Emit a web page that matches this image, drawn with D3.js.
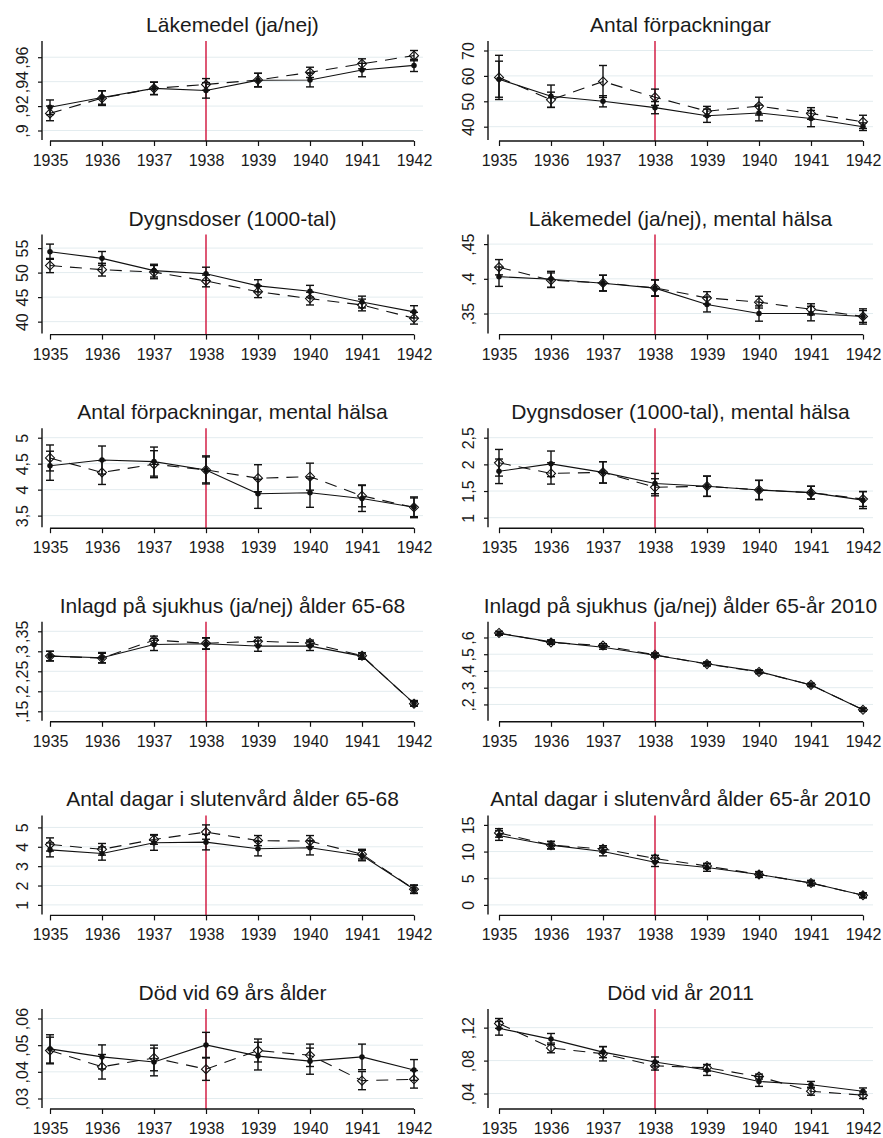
<!DOCTYPE html>
<html>
<head>
<meta charset="utf-8">
<script src="https://cdn.jsdelivr.net/npm/d3@7"></script>
<style>
  body { margin: 0; background: #fff; }
  text { font-family: "Liberation Sans", Arial, sans-serif; fill: #1a1a1a; }
  .title { font-size: 21px; }
  .tick text { font-size: 16px; }
</style>
</head>
<body>
<div id="graph"></div>
<script>
//----------------------------------------------------------
// data (solid = filled dots, dash = hollow diamonds, CI = half width of 95% bar)
var g_years = [1935, 1936, 1937, 1938, 1939, 1940, 1941, 1942];
var g_reform_year = 1938;

var p1_title = "Läkemedel (ja/nej)";
var p1_ticks = [0.90, 0.92, 0.94, 0.96];
var p1_solid = [0.919, 0.927, 0.9345, 0.9328, 0.9412, 0.9413, 0.9495, 0.9533];
var p1_solidCI = [0.006, 0.0055, 0.0052, 0.0063, 0.0056, 0.0056, 0.0055, 0.005];
var p1_dash = [0.914, 0.9265, 0.9345, 0.9377, 0.9414, 0.9476, 0.9546, 0.9613];
var p1_dashCI = [0.006, 0.006, 0.005, 0.0048, 0.0055, 0.0042, 0.0041, 0.0042];

var p2_title = "Antal förpackningar";
var p2_ticks = [40, 50, 60, 70];
var p2_solid = [58.7, 52.0, 50.0, 47.5, 44.3, 45.4, 43.2, 40.0];
var p2_solidCI = [7.1, 4.4, 2.2, 2.4, 2.6, 3.1, 3.2, 1.5];
var p2_dash = [59.4, 50.6, 57.8, 51.6, 46.1, 48.1, 45.2, 41.9];
var p2_dashCI = [8.7, 3.0, 6.3, 3.2, 1.9, 3.5, 2.3, 2.6];

var p3_title = "Dygnsdoser (1000-tal)";
var p3_ticks = [40, 45, 50, 55];
var p3_solid = [54.26, 52.9, 50.4, 49.75, 47.3, 46.2, 44.0, 42.0];
var p3_solidCI = [1.55, 1.4, 1.3, 1.35, 1.25, 1.2, 1.2, 1.25];
var p3_dash = [51.44, 50.6, 50.1, 48.3, 46.1, 44.7, 43.4, 40.7];
var p3_dashCI = [1.45, 1.3, 1.35, 1.2, 1.2, 1.3, 1.2, 1.2];

var p4_title = "Läkemedel (ja/nej), mental hälsa";
var p4_ticks = [0.35, 0.40, 0.45];
var p4_solid = [0.4031, 0.3993, 0.3937, 0.3866, 0.3631, 0.350, 0.350, 0.3458];
var p4_solidCI = [0.014, 0.0115, 0.0115, 0.0118, 0.0108, 0.011, 0.0105, 0.0085];
var p4_dash = [0.4167, 0.398, 0.394, 0.387, 0.3725, 0.3664, 0.3561, 0.3458];
var p4_dashCI = [0.011, 0.0105, 0.0112, 0.0115, 0.009, 0.0085, 0.008, 0.011];

var p5_title = "Antal förpackningar, mental hälsa";
var p5_ticks = [3.5, 4, 4.5, 5];
var p5_solid = [4.46, 4.57, 4.54, 4.38, 3.92, 3.94, 3.83, 3.66];
var p5_solidCI = [0.28, 0.27, 0.28, 0.27, 0.28, 0.28, 0.25, 0.2];
var p5_dash = [4.61, 4.33, 4.49, 4.38, 4.22, 4.25, 3.88, 3.66];
var p5_dashCI = [0.25, 0.23, 0.26, 0.25, 0.26, 0.26, 0.21, 0.18];

var p6_title = "Dygnsdoser (1000-tal), mental hälsa";
var p6_ticks = [1, 1.5, 2, 2.5];
var p6_solid = [1.87, 2.01, 1.85, 1.64, 1.59, 1.52, 1.47, 1.33];
var p6_solidCI = [0.23, 0.24, 0.2, 0.19, 0.19, 0.18, 0.12, 0.16];
var p6_dash = [2.03, 1.83, 1.85, 1.57, 1.59, 1.52, 1.47, 1.35];
var p6_dashCI = [0.25, 0.2, 0.2, 0.16, 0.19, 0.18, 0.12, 0.14];

var p7_title = "Inlagd på sjukhus (ja/nej) ålder 65-68";
var p7_ticks = [0.15, 0.20, 0.25, 0.30, 0.35];
var p7_solid = [0.288, 0.284, 0.317, 0.319, 0.313, 0.313, 0.288, 0.170];
var p7_solidCI = [0.012, 0.013, 0.015, 0.014, 0.013, 0.011, 0.008, 0.007];
var p7_dash = [0.288, 0.283, 0.328, 0.320, 0.325, 0.321, 0.289, 0.169];
var p7_dashCI = [0.012, 0.012, 0.010, 0.014, 0.010, 0.007, 0.007, 0.006];

var p8_title = "Inlagd på sjukhus (ja/nej) ålder 65-år 2010";
var p8_ticks = [0.2, 0.3, 0.4, 0.5, 0.6];
var p8_solid = [0.624, 0.574, 0.542, 0.494, 0.443, 0.396, 0.316, 0.168];
var p8_solidCI = [0.011, 0.012, 0.012, 0.011, 0.011, 0.010, 0.009, 0.009];
var p8_dash = [0.627, 0.570, 0.552, 0.496, 0.441, 0.394, 0.317, 0.168];
var p8_dashCI = [0.010, 0.011, 0.011, 0.011, 0.011, 0.010, 0.009, 0.009];

var p9_title = "Antal dagar i slutenvård ålder 65-68";
var p9_ticks = [1, 2, 3, 4, 5];
var p9_solid = [3.84, 3.65, 4.21, 4.24, 3.90, 3.95, 3.55, 1.81];
var p9_solidCI = [0.36, 0.34, 0.39, 0.40, 0.37, 0.37, 0.27, 0.22];
var p9_dash = [4.12, 3.87, 4.38, 4.76, 4.32, 4.29, 3.62, 1.81];
var p9_dashCI = [0.34, 0.30, 0.25, 0.37, 0.26, 0.29, 0.25, 0.2];

var p10_title = "Antal dagar i slutenvård ålder 65-år 2010";
var p10_ticks = [0, 5, 10, 15];
var p10_solid = [13.0, 11.2, 10.0, 8.0, 7.0, 5.7, 4.1, 1.8];
var p10_solidCI = [0.9, 0.7, 0.8, 0.8, 0.7, 0.55, 0.5, 0.45];
var p10_dash = [13.5, 11.2, 10.5, 8.7, 7.3, 5.7, 4.1, 1.8];
var p10_dashCI = [0.8, 0.7, 0.6, 0.6, 0.5, 0.5, 0.45, 0.45];

var p11_title = "Död vid 69 års ålder";
var p11_ticks = [0.03, 0.04, 0.05, 0.06];
var p11_solid = [0.0486, 0.0456, 0.0437, 0.0501, 0.0459, 0.0440, 0.0456, 0.0407];
var p11_solidCI = [0.0053, 0.0045, 0.0052, 0.0047, 0.0052, 0.0049, 0.0048, 0.0039];
var p11_dash = [0.0480, 0.0419, 0.0452, 0.0410, 0.0480, 0.0462, 0.0367, 0.0372];
var p11_dashCI = [0.005, 0.0046, 0.0048, 0.0042, 0.0043, 0.0042, 0.0034, 0.0033];

var p12_title = "Död vid år 2011";
var p12_ticks = [0.04, 0.08, 0.12];
var p12_solid = [0.1192, 0.1061, 0.0903, 0.0784, 0.0685, 0.0547, 0.0507, 0.0428];
var p12_solidCI = [0.0083, 0.0068, 0.0067, 0.006, 0.0065, 0.006, 0.004, 0.004];
var p12_dash = [0.1251, 0.0954, 0.0883, 0.0737, 0.0713, 0.0606, 0.0428, 0.0380];
var p12_dashCI = [0.006, 0.0059, 0.0087, 0.0052, 0.004, 0.003, 0.0048, 0.004];

var g_panels = [
    [p1_title, p1_ticks, p1_solid, p1_solidCI, p1_dash, p1_dashCI],
    [p2_title, p2_ticks, p2_solid, p2_solidCI, p2_dash, p2_dashCI],
    [p3_title, p3_ticks, p3_solid, p3_solidCI, p3_dash, p3_dashCI],
    [p4_title, p4_ticks, p4_solid, p4_solidCI, p4_dash, p4_dashCI],
    [p5_title, p5_ticks, p5_solid, p5_solidCI, p5_dash, p5_dashCI],
    [p6_title, p6_ticks, p6_solid, p6_solidCI, p6_dash, p6_dashCI],
    [p7_title, p7_ticks, p7_solid, p7_solidCI, p7_dash, p7_dashCI],
    [p8_title, p8_ticks, p8_solid, p8_solidCI, p8_dash, p8_dashCI],
    [p9_title, p9_ticks, p9_solid, p9_solidCI, p9_dash, p9_dashCI],
    [p10_title, p10_ticks, p10_solid, p10_solidCI, p10_dash, p10_dashCI],
    [p11_title, p11_ticks, p11_solid, p11_solidCI, p11_dash, p11_dashCI],
    [p12_title, p12_ticks, p12_solid, p12_solidCI, p12_dash, p12_dashCI]
].map(function (p) {
    return { title: p[0], ticks: p[1], solid: p[2], solidCI: p[3], dash: p[4], dashCI: p[5] };
});


//----------------------------------------------------------
// layout
const WIDTH = 883, HEIGHT = 1138;
const COLS = [
    { left: 42, x0: 50, x1: 414, right: 423 },
    { left: 488, x0: 499, x1: 863, right: 873 }
];
const TOP0 = 41, ROW_STEP = 193.6, PLOT_H = 99, Y_PAD = 9.5;
const INK = "#111";
const RED = "#d0103a";
const GRID = "#e3ecef";

var g_svg = d3.select("#graph")
  .append("svg")
    .attr("width", WIDTH)
    .attr("height", HEIGHT);

g_svg.append("rect")
    .attr("width", WIDTH)
    .attr("height", HEIGHT)
    .attr("fill", "#fff");

// stata style tick label: no leading zero, decimal comma
function FormatTick(v) {
    var s = String(+v.toFixed(4));
    return s.replace(/^0\./, ".").replace(".", ",");
}

function DrawSeries(g, x, y, means, ci, dashed) {
    var rows = g_years.map(function (yr, i) {
        return { year: yr, mean: means[i], lo: means[i] - ci[i], hi: means[i] + ci[i] };
    });

    g.append("path")
        .datum(rows)
        .attr("fill", "none")
        .attr("stroke", INK)
        .attr("stroke-width", 1.1)
        .attr("stroke-dasharray", dashed ? "12,8" : null)
        .attr("d", d3.line()
            .x(function (d) { return x(d.year); })
            .y(function (d) { return y(d.mean); }));

    var bars = g.append("g")
        .attr("stroke", INK)
        .attr("stroke-width", 1.4)
      .selectAll("g")
      .data(rows)
      .join("g")
        .attr("transform", function (d) { return "translate(" + x(d.year) + ",0)"; });

    bars.append("line")
        .attr("y1", function (d) { return y(d.lo); })
        .attr("y2", function (d) { return y(d.hi); });
    bars.append("line")
        .attr("x1", -4).attr("x2", 4)
        .attr("y1", function (d) { return y(d.lo); })
        .attr("y2", function (d) { return y(d.lo); });
    bars.append("line")
        .attr("x1", -4).attr("x2", 4)
        .attr("y1", function (d) { return y(d.hi); })
        .attr("y2", function (d) { return y(d.hi); });

    var marks = g.append("g")
      .selectAll("path")
      .data(rows)
      .join("path")
        .attr("transform", function (d) {
            return "translate(" + x(d.year) + "," + y(d.mean) + ")";
        });

    if (dashed) {
        marks
            .attr("d", "M0,-4.5L4.5,0L0,4.5L-4.5,0Z")
            .attr("fill", "none")
            .attr("stroke", INK)
            .attr("stroke-width", 1.1);
    } else {
        marks
            .attr("d", d3.symbol(d3.symbolCircle, 24)())
            .attr("fill", INK);
    }
}

function DrawPanel(panel, index) {
    const col = COLS[index % 2];
    const top = TOP0 + Math.floor(index / 2) * ROW_STEP;
    const bottom = top + PLOT_H;

    var lows = [], highs = [];
    g_years.forEach(function (yr, i) {
        lows.push(panel.solid[i] - panel.solidCI[i], panel.dash[i] - panel.dashCI[i]);
        highs.push(panel.solid[i] + panel.solidCI[i], panel.dash[i] + panel.dashCI[i]);
    });
    const lo = Math.min(d3.min(lows), d3.min(panel.ticks));
    const hi = Math.max(d3.max(highs), d3.max(panel.ticks));

    const x = d3.scaleLinear()
        .domain([g_years[0], g_years[g_years.length - 1]])
        .range([col.x0, col.x1]);
    const y = d3.scaleLinear()
        .domain([lo, hi])
        .range([bottom - Y_PAD, top + Y_PAD]);

    var g = g_svg.append("g");

    // grid
    g.append("g")
      .selectAll("line")
      .data(panel.ticks)
      .join("line")
        .attr("x1", col.left + 1)
        .attr("x2", col.right)
        .attr("y1", function (d) { return y(d); })
        .attr("y2", function (d) { return y(d); })
        .attr("stroke", GRID)
        .attr("stroke-width", 1);

    // reform year
    g.append("line")
        .attr("x1", x(g_reform_year))
        .attr("x2", x(g_reform_year))
        .attr("y1", top)
        .attr("y2", bottom + 1)
        .attr("stroke", RED)
        .attr("stroke-width", 1.4);

    DrawSeries(g, x, y, panel.dash, panel.dashCI, true);
    DrawSeries(g, x, y, panel.solid, panel.solidCI, false);

    // y axis
    var ya = g.append("g")
        .attr("transform", "translate(" + col.left + ",0)")
        .call(d3.axisLeft(y)
            .tickValues(panel.ticks)
            .tickSize(4)
            .tickFormat(FormatTick));
    ya.select(".domain").remove();
    ya.selectAll(".tick line").attr("stroke", INK).attr("stroke-width", 1.2);
    ya.selectAll(".tick text")
        .attr("x", null)
        .attr("dy", null)
        .attr("text-anchor", "middle")
        .attr("transform", "translate(-14,0) rotate(-90)");
    ya.append("line")
        .attr("y1", top)
        .attr("y2", bottom)
        .attr("stroke", INK)
        .attr("stroke-width", 1.4);

    // x axis
    var xa = g.append("g")
        .attr("transform", "translate(0," + (bottom + 1) + ")")
        .call(d3.axisBottom(x)
            .tickValues(g_years)
            .tickSize(5)
            .tickFormat(d3.format("d")));
    xa.select(".domain").remove();
    xa.selectAll(".tick line").attr("stroke", INK).attr("stroke-width", 1.2);
    xa.selectAll(".tick text")
        .attr("y", 25)
        .attr("dy", null);
    xa.append("line")
        .attr("x1", col.x0)
        .attr("x2", col.x1)
        .attr("stroke", INK)
        .attr("stroke-width", 1.4);

    // title
    g.append("text")
        .attr("class", "title")
        .attr("x", (col.left + col.right) / 2)
        .attr("y", top - 9)
        .attr("text-anchor", "middle")
        .text(panel.title);
}

g_panels.forEach(DrawPanel);
</script>
</body>
</html>
